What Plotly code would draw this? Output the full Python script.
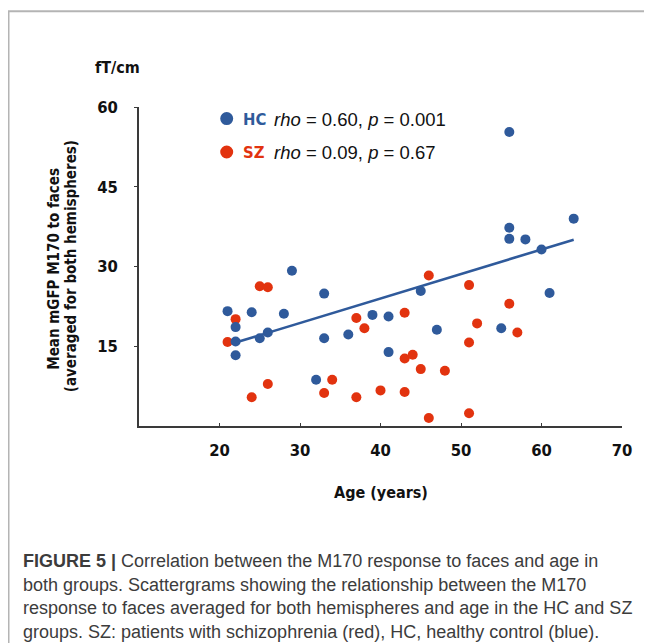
import numpy as np
import plotly.graph_objects as go

# ---------------- data ----------------
hc_age = [21, 22, 22, 22, 24, 25, 26, 28, 29, 32, 33, 33, 36, 39, 41, 41, 45, 47,
          55, 56, 56, 56, 58, 60, 61, 64]
hc_m170 = [21.6, 18.6, 15.9, 13.3, 21.4, 16.5, 17.6, 21.1, 29.2, 8.7, 24.9, 16.5,
           17.2, 20.9, 20.6, 13.9, 25.4, 18.1, 18.4, 55.3, 37.3, 35.2, 35.1, 33.2,
           25.0, 39.0]

sz_age = [25, 26, 21, 22, 24, 26, 33, 34, 37, 38, 37, 40, 43, 43, 44, 43, 45, 46,
          48, 46, 51, 56, 52, 51, 57, 51]
sz_m170 = [26.3, 26.1, 15.8, 20.1, 5.4, 7.9, 6.2, 8.7, 20.3, 18.4, 5.4, 6.7, 21.3,
           12.7, 13.4, 6.4, 10.7, 1.5, 10.4, 28.3, 26.5, 23.0, 19.3, 15.7, 17.6, 2.4]

fit_ages = [22, 64]          # extent of the HC regression line
x_ticks = [20, 30, 40, 50, 60, 70]
y_ticks = [15, 30, 45, 60]
x_range = [10, 70]
y_range = [0, 60]

hc_label = "HC"
sz_label = "SZ"
hc_stats = "<i>rho</i> = 0.60, <i>p</i> = 0.001"
sz_stats = "<i>rho</i> = 0.09, <i>p</i> = 0.67"
x_title = "Age (years)"
y_title_1 = "Mean mGFP M170 to faces"
y_title_2 = "(averaged for both hemispheres)"
unit_label = "fT/cm"
caption_lines = [
    "<b>FIGURE 5 |</b> Correlation between the M170 response to faces and age in",
    "both groups. Scattergrams showing the relationship between the M170",
    "response to faces averaged for both hemispheres and age in the HC and SZ",
    "groups. SZ: patients with schizophrenia (red), HC, healthy control (blue).",
]

# ---------------- style ----------------
BLUE = "#2F5A9B"
RED = "#E2330F"
AXIS = "#3a3a3a"
NARROW = "DejaVu Sans Condensed, Roboto Condensed, Arial Narrow, Roboto, sans-serif"
SANS = "Liberation Sans, Arial, sans-serif"

OFF = 8                        # page body margin of the html page
W, H = 652 - OFF, 643 - OFF
L, R, T, B = 139 - OFF, 622 - OFF, 106.7 - OFF, 425.8 - OFF


def px(xp):
    return (xp - OFF - L) / (R - L)


def py(yp):
    return (B - (yp - OFF)) / (B - T)


def nfont(size, color="#111"):
    return dict(family=NARROW, size=size, color=color, weight="bold")


slope, intercept = np.polyfit(hc_age, hc_m170, 1)
fit_y = [slope * a + intercept for a in fit_ages]

fig = go.Figure()
fig.add_trace(go.Scatter(x=sz_age, y=sz_m170, mode="markers",
                         marker=dict(color=RED, size=10, line=dict(width=0)),
                         showlegend=False, cliponaxis=False))
fig.add_trace(go.Scatter(x=hc_age, y=hc_m170, mode="markers",
                         marker=dict(color=BLUE, size=10, line=dict(width=0)),
                         showlegend=False, cliponaxis=False))
fig.add_trace(go.Scatter(x=fit_ages, y=fit_y, mode="lines",
                         line=dict(color=BLUE, width=2.6), showlegend=False))

ann = []
# legend-like text
for yc, lab, col, stats in [(119.5, hc_label, BLUE, hc_stats), (152.5, sz_label, RED, sz_stats)]:
    ann.append(dict(x=px(240.5), y=py(yc), xref="paper", yref="paper", text=lab,
                    xanchor="left", yanchor="middle", showarrow=False,
                    font=nfont(16.5, col)))
    ann.append(dict(x=px(272), y=py(yc), xref="paper", yref="paper", text=stats,
                    xanchor="left", yanchor="middle", showarrow=False,
                    font=dict(family=SANS, size=18.5, color="#111")))
# axis titles
ann.append(dict(x=px(380.5), y=py(492.5), xref="paper", yref="paper", text=x_title,
                xanchor="center", yanchor="middle", showarrow=False, font=nfont(16)))
ann.append(dict(x=px(54.5), y=py(269), xref="paper", yref="paper", text=y_title_1,
                xanchor="center", yanchor="middle", showarrow=False, textangle=-90,
                font=nfont(15)))
ann.append(dict(x=px(71), y=py(266), xref="paper", yref="paper", text=y_title_2,
                xanchor="center", yanchor="middle", showarrow=False, textangle=-90,
                font=nfont(15)))
ann.append(dict(x=px(117.5), y=py(67.5), xref="paper", yref="paper", text=unit_label,
                xanchor="center", yanchor="middle", showarrow=False, font=nfont(16)))
# caption
for i, line in enumerate(caption_lines):
    ann.append(dict(x=px(21), y=py(561 + i * 23.6), xref="paper", yref="paper", text=line,
                    xanchor="left", yanchor="middle", showarrow=False,
                    font=dict(family=SANS, size=18, color="#3c3c3c")))

shapes = []
# legend keys
for yc, col in [(118.3, BLUE), (151.7, RED)]:
    shapes.append(dict(type="circle", xref="paper", yref="paper",
                       xsizemode="pixel", ysizemode="pixel",
                       xanchor=px(226.7), yanchor=py(yc),
                       x0=-6.5, x1=6.5, y0=-6.5, y1=6.5,
                       fillcolor=col, line=dict(width=0)))
# figure frame
shapes.append(dict(type="line", xref="paper", yref="paper", x0=px(8), x1=px(660),
                   y0=py(11), y1=py(11), line=dict(color="#b4b4b4", width=2)))
shapes.append(dict(type="line", xref="paper", yref="paper", x0=px(8.75), x1=px(8.75),
                   y0=py(11), y1=py(660), line=dict(color="#b4b4b4", width=1.5)))

fig.update_layout(
    width=W, height=H,
    margin=dict(l=L, r=W - R, t=T, b=H - B, pad=0),
    paper_bgcolor="white", plot_bgcolor="white",
    annotations=ann, shapes=shapes,
    xaxis=dict(range=x_range, tickvals=x_ticks, ticks="inside", ticklen=3,
               tickcolor=AXIS, showline=True, linecolor=AXIS, linewidth=1.5,
               showgrid=False, zeroline=False, ticklabelstandoff=8,
               tickfont=nfont(16.5)),
    yaxis=dict(range=y_range, tickvals=y_ticks, ticks="outside", ticklen=3,
               tickcolor=AXIS, showline=True, linecolor=AXIS, linewidth=1.5,
               showgrid=False, zeroline=False, ticklabelstandoff=13,
               tickfont=nfont(16.5)),
)

fig.write_html("out.html")
